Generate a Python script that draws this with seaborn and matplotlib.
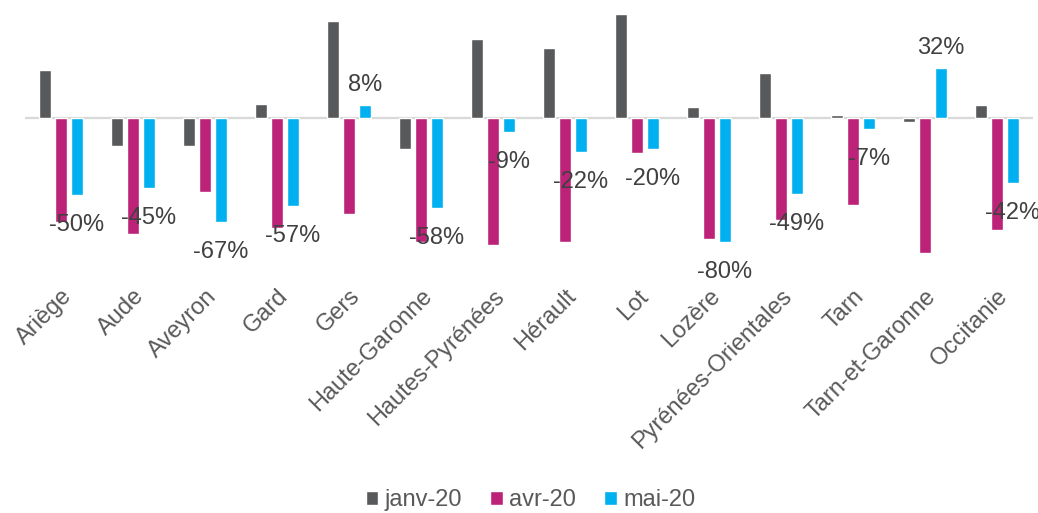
import matplotlib
matplotlib.use('Agg')
import matplotlib.pyplot as plt
import seaborn as sns
import pandas as pd

# values (fractions)
departements = ['Ariège', 'Aude', 'Aveyron', 'Gard', 'Gers', 'Haute-Garonne',
                'Hautes-Pyrénées', 'Hérault', 'Lot', 'Lozère',
                'Pyrénées-Orientales', 'Tarn', 'Tarn-et-Garonne', 'Occitanie']
series_names = ['janv-20', 'avr-20', 'mai-20']
janv_20 = [0.31, -0.18, -0.18, 0.09, 0.62, -0.20, 0.51, 0.45, 0.67, 0.07, 0.29, 0.02, -0.03, 0.08]
avr_20 = [-0.67, -0.75, -0.48, -0.71, -0.62, -0.80, -0.82, -0.80, -0.23, -0.78, -0.66, -0.56, -0.87, -0.72]
mai_20 = [-0.50, -0.45, -0.67, -0.57, 0.08, -0.58, -0.09, -0.22, -0.20, -0.80, -0.49, -0.07, 0.32, -0.42]
colors = ['#58595B', '#BC2277', '#00B0F0']

df = pd.DataFrame({
    'dep': departements * 3,
    'serie': [s for s in series_names for _ in departements],
    'val': janv_20 + avr_20 + mai_20,
})

sns.set_theme(style='white')
plt.rcParams['font.family'] = ['Liberation Sans', 'DejaVu Sans']

fig = plt.figure(figsize=(10.38, 5.13), dpi=100)
ax = fig.add_axes([25 / 1038, 1 - 270 / 513, 1008 / 1038, 261 / 513])

sns.barplot(data=df, x='dep', y='val', hue='serie', palette=colors, saturation=1,
            width=0.667, gap=0.22, ax=ax, legend=True, zorder=3)
ax.axhline(0, color='#D9D9D9', lw=1.6, zorder=2)

ax.set_xlim(-0.5, len(departements) - 0.5)
ax.set_ylim(-0.98, 0.70)
ax.set_xlabel('')
ax.set_ylabel('')
ax.set_yticks([])
for s in ax.spines.values():
    s.set_visible(False)
ax.tick_params(axis='x', length=0, pad=11, labelsize=17, labelcolor='#595959')
plt.setp(ax.get_xticklabels(), rotation=45, ha='right', rotation_mode='anchor')

# labels on the mai-20 bars only
for cont, name in zip(ax.containers, series_names):
    if name != 'mai-20':
        continue
    for bar, v in zip(cont, mai_20):
        x = bar.get_x() + bar.get_width() / 2
        off = -30 if v < 0 else 20
        ax.annotate(f'{v * 100:.0f}%', (x, v), xytext=(0, off),
                    textcoords='offset pixels', ha='center', va='center',
                    fontsize=17, color='#404040', zorder=5)

ax.legend(loc='center', bbox_to_anchor=(0.511, 1 - 500 / 513), bbox_transform=fig.transFigure,
          ncol=3, frameon=False, fontsize=17, handlelength=0.55, handleheight=0.55,
          handletextpad=0.25, columnspacing=1.2, labelcolor='#595959')

fig.savefig('out.png', dpi=100)
